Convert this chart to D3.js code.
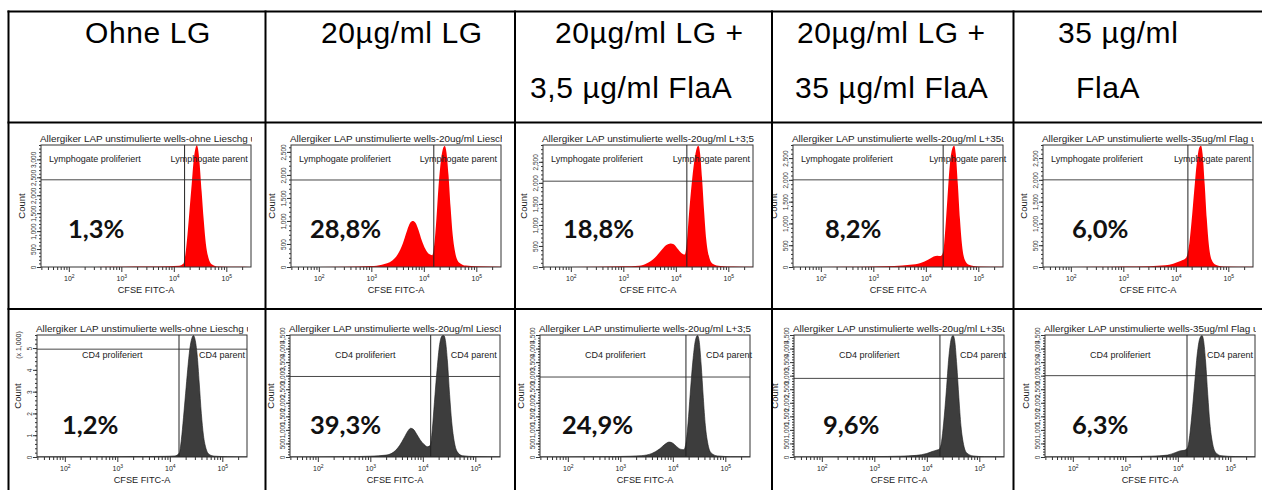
<!DOCTYPE html>
<html>
<head>
<meta charset="utf-8">
<script src="https://cdn.jsdelivr.net/npm/d3@7"></script>
<style>
body { margin: 0; background: #fff; }
svg { display: block; font-family: "Liberation Sans", Arial, sans-serif; }
</style>
</head>
<body>
<div class="chart"></div>
<script>
// column headers (one or two lines each)
const headers = [["Ohne LG"], ["20µg/ml LG"], ["20µg/ml LG +", "3,5 µg/ml FlaA"], ["20µg/ml LG +", "35 µg/ml FlaA"], ["35 µg/ml", "FlaA"]];
const sampleNames = ["ohne Lieschg u", "20ug/ml Liesch", "20ug/ml L+3;5u", "20ug/ml L+35u", "35ug/ml Flag u"];
const titlePrefix = "Allergiker LAP unstimulierte wells-";

// proliferated fraction printed in each plot
const lymphPercent = ["1,3%", "28,8%", "18,8%", "8,2%", "6,0%"];
const cd4Percent = ["1,2%", "39,3%", "24,9%", "9,6%", "6,3%"];

// y-axis top (count) of every histogram
const lymphMax = [3400, 2650, 2900, 2800, 2800];
const cd4Max = [5600, 4500, 4500, 4500, 4500];

// gates: vertical position (log10 CFSE) and horizontal position (count)
const lymphGateX = [4.205, 4.19, 4.21, 4.33, 4.23];
const lymphGateY = [2430, 1890, 2040, 2000, 2000];
const cd4GateX = [4.175, 4.15, 4.25, 4.25, 4.175];
const cd4GateY = [4950, 2970, 2950, 2900, 3000];

// histograms: [log10 CFSE FITC-A, count]
const lymphHist = [
  [[1.47,0],[2.5,3],[3.0,8],[3.5,12],[3.9,20],[4.1,35],[4.18,90],[4.22,350],[4.26,900],[4.30,1600],[4.34,2300],[4.38,3000],[4.42,3350],[4.44,3390],[4.46,3300],[4.49,2900],[4.53,2100],[4.57,1300],[4.61,650],[4.66,250],[4.72,80],[4.85,15],[5.2,5],[5.47,3]],
  [[1.47,0],[2.5,5],[3.0,20],[3.2,50],[3.4,140],[3.5,270],[3.6,510],[3.68,790],[3.74,960],[3.79,1000],[3.84,960],[3.90,800],[3.96,580],[4.03,390],[4.10,280],[4.16,255],[4.20,500],[4.24,1050],[4.28,1750],[4.33,2350],[4.37,2590],[4.40,2630],[4.43,2500],[4.47,2000],[4.51,1300],[4.55,700],[4.60,300],[4.67,100],[4.8,30],[5.0,15],[5.47,5]],
  [[1.47,0],[2.5,5],[3.0,15],[3.3,30],[3.45,90],[3.6,220],[3.72,390],[3.82,520],[3.9,560],[3.96,540],[4.03,440],[4.10,340],[4.17,295],[4.21,600],[4.25,1250],[4.30,1950],[4.35,2500],[4.40,2830],[4.43,2880],[4.46,2720],[4.50,2100],[4.54,1300],[4.58,650],[4.63,260],[4.70,80],[4.85,25],[5.1,10],[5.47,4]],
  [[1.47,0],[2.5,5],[3.0,12],[3.4,25],[3.7,50],[3.9,90],[4.05,170],[4.15,240],[4.22,260],[4.28,250],[4.33,350],[4.37,850],[4.41,1550],[4.45,2250],[4.50,2700],[4.54,2780],[4.57,2600],[4.61,1900],[4.65,1100],[4.69,500],[4.74,170],[4.82,50],[5.0,12],[5.47,4]],
  [[1.47,0],[2.5,5],[3.0,10],[3.5,20],[3.8,40],[3.95,75],[4.05,120],[4.13,160],[4.2,220],[4.25,480],[4.30,1050],[4.35,1750],[4.40,2400],[4.45,2750],[4.48,2780],[4.51,2600],[4.55,1900],[4.59,1100],[4.63,500],[4.68,170],[4.76,50],[4.9,12],[5.47,4]]
];
const cd4Hist = [
  [[1.47,0],[2.5,10],[3.0,15],[3.5,20],[3.9,30],[4.1,50],[4.18,180],[4.22,800],[4.26,1800],[4.30,2900],[4.34,4000],[4.38,4950],[4.42,5450],[4.45,5580],[4.48,5400],[4.52,4700],[4.56,3400],[4.60,2000],[4.64,1000],[4.69,380],[4.75,120],[4.85,40],[5.1,15],[5.47,5]],
  [[1.47,0],[2.5,10],[3.0,30],[3.3,70],[3.45,190],[3.56,430],[3.65,730],[3.72,970],[3.77,1060],[3.82,1020],[3.88,850],[3.95,630],[4.02,470],[4.09,380],[4.14,420],[4.18,1000],[4.22,2000],[4.27,3200],[4.32,4150],[4.37,4470],[4.40,4480],[4.43,4300],[4.47,3500],[4.51,2300],[4.55,1300],[4.60,550],[4.66,180],[4.75,50],[5.0,15],[5.47,5]],
  [[1.47,0],[2.5,8],[3.0,20],[3.4,50],[3.6,130],[3.75,300],[3.85,470],[3.93,550],[4.0,510],[4.07,390],[4.14,290],[4.21,270],[4.25,520],[4.29,1250],[4.33,2300],[4.38,3500],[4.43,4300],[4.47,4480],[4.50,4300],[4.54,3400],[4.58,2200],[4.62,1150],[4.67,460],[4.73,150],[4.85,40],[5.1,12],[5.47,5]],
  [[1.47,0],[2.5,8],[3.0,15],[3.5,30],[3.8,60],[4.0,130],[4.1,200],[4.18,250],[4.24,290],[4.28,560],[4.32,1250],[4.37,2400],[4.42,3700],[4.47,4400],[4.50,4480],[4.53,4300],[4.57,3400],[4.61,2200],[4.65,1150],[4.70,460],[4.76,150],[4.88,40],[5.1,12],[5.47,5]],
  [[1.47,0],[2.5,8],[3.0,15],[3.5,30],[3.8,70],[3.95,160],[4.04,225],[4.12,245],[4.18,320],[4.22,700],[4.27,1600],[4.32,2700],[4.37,3800],[4.42,4380],[4.46,4480],[4.49,4300],[4.53,3500],[4.57,2300],[4.61,1250],[4.66,520],[4.72,170],[4.82,50],[5.1,15],[5.47,5]]
];

// ---- layout ----
const W = 1262, H = 490;
const colX = [8.5, 265.5, 515, 772, 1013.5, 1263];
const rowY = [11.5, 122.5, 309, 493];
const headIndent = [[76.5], [55.5], [40, 15], [25, 23], [44.5, 62.5]];
const headBase = [43, 98];
const topFrameX = [41, 291, 543, 793, 1043];
const botFrameX = [37, 290, 540, 794, 1045];
const topPctX = [27, 19, 20, 32, 29];
const botPctX = [25, 20, 22, 29, 27];
const fw = 210, fh = 122;

const svg = d3.select('.chart')
  .append('svg')
  .attr('width', W)
  .attr('height', H);

const defs = svg.append('defs');

// header text
headers.forEach((lines, i) => {
  lines.forEach((t, j) => {
    svg.append('text')
      .attr('x', colX[i] + headIndent[i][j])
      .attr('y', headBase[j])
      .attr('font-size', 30)
      .attr('letter-spacing', 0.6)
      .attr('fill', '#000')
      .text(t);
  });
});

function panel(r, c, p) {
  const clipId = `cell-${r}-${c}`;
  defs.append('clipPath').attr('id', clipId)
    .append('rect')
    .attr('x', colX[c] + 1).attr('y', rowY[r + 1] + 1)
    .attr('width', colX[c + 1] - colX[c] - 2)
    .attr('height', rowY[r + 2] - rowY[r + 1] - 2);
  const g = svg.append('g').attr('clip-path', `url(#${clipId})`);

  const x = d3.scaleLog().domain([10 ** 1.47, 10 ** 5.47]).range([p.fx, p.fx + fw]);
  const y = d3.scaleLinear().domain([0, p.max]).range([p.fy + fh, p.fy]);

  // title (cut at the frame's right edge)
  const tClip = `title-${r}-${c}`;
  defs.append('clipPath').attr('id', tClip)
    .append('rect').attr('x', p.fx - 3).attr('y', p.fy - 14).attr('width', fw + 4).attr('height', 14);
  g.append('text')
    .attr('clip-path', `url(#${tClip})`)
    .attr('x', p.fx - 1).attr('y', p.fy - 3.5)
    .attr('font-size', 9.9).attr('fill', '#222')
    .text(titlePrefix + p.name);

  // histogram
  const fClip = `frame-${r}-${c}`;
  defs.append('clipPath').attr('id', fClip)
    .append('rect').attr('x', p.fx).attr('y', p.fy - 2).attr('width', fw).attr('height', fh + 2);
  const area = d3.area()
    .x(d => x(10 ** d[0]))
    .y0(y(0))
    .y1(d => y(d[1]))
    .curve(d3.curveMonotoneX);
  g.append('path')
    .datum(p.hist)
    .attr('clip-path', `url(#${fClip})`)
    .attr('d', area)
    .attr('fill', p.color)
    .attr('stroke', p.stroke)
    .attr('stroke-width', 0.6);

  // gates
  const gx = x(10 ** p.gateX), gy = y(p.gateY);
  g.append('line').attr('x1', gx).attr('x2', gx).attr('y1', p.fy).attr('y2', p.fy + fh)
    .attr('stroke', '#222').attr('stroke-width', 1);
  g.append('line').attr('x1', p.fx).attr('x2', p.fx + fw).attr('y1', gy).attr('y2', gy)
    .attr('stroke', '#333').attr('stroke-width', 0.9);
  g.append('text').attr('x', p.fx + p.leftLabelDx).attr('y', p.fy + p.labelDy)
    .attr('font-size', 9).attr('fill', '#222').text(p.leftLabel);
  g.append('text').attr('x', gx + p.rightLabelDx).attr('y', p.fy + p.labelDy)
    .attr('font-size', 9).attr('fill', '#222').text(p.rightLabel);

  // frame
  g.append('rect').attr('x', p.fx).attr('y', p.fy).attr('width', fw).attr('height', fh)
    .attr('fill', 'none').attr('stroke', '#333').attr('stroke-width', 1);

  // x axis: log minor + major ticks
  const minor = [];
  for (let d = 1; d <= 5; d++) for (let k = 2; k <= 9; k++) {
    const v = k * 10 ** d;
    if (v >= x.domain()[0] && v <= x.domain()[1]) minor.push(v);
  }
  g.append('g')
    .attr('transform', `translate(0,${p.fy + fh})`)
    .attr('color', '#333')
    .call(d3.axisBottom(x).tickValues(minor).tickSize(3).tickFormat(''))
    .call(s => s.select('.domain').remove());
  const majorAxis = g.append('g')
    .attr('transform', `translate(0,${p.fy + fh})`)
    .attr('color', '#333')
    .call(d3.axisBottom(x).tickValues([100, 1000, 10000, 100000]).tickSize(5).tickFormat(''))
    .call(s => s.select('.domain').remove());
  majorAxis.selectAll('.tick').append('text')
    .attr('y', 14).attr('text-anchor', 'middle')
    .attr('font-size', 7).attr('fill', '#222')
    .each(function (d) {
      const t = d3.select(this);
      t.append('tspan').text('10');
      t.append('tspan').attr('font-size', 5).attr('dy', -3).text(Math.round(Math.log10(d)));
    });

  g.append('text').attr('x', p.fx + fw / 2).attr('y', p.fy + fh + 26)
    .attr('text-anchor', 'middle').attr('font-size', 9.2).attr('fill', '#222')
    .text('CFSE FITC-A');

  // y axis
  const yMinor = d3.range(0, p.max + 1, p.step / 5);
  g.append('g')
    .attr('transform', `translate(${p.fx},0)`)
    .attr('color', '#333')
    .call(d3.axisLeft(y).tickValues(yMinor).tickSize(2).tickFormat(''))
    .call(s => s.select('.domain').remove());
  g.append('g')
    .attr('transform', `translate(${p.fx},0)`)
    .attr('color', '#333')
    .call(d3.axisLeft(y).tickValues(d3.range(0, p.max + 1, p.step)).tickSize(4).tickFormat(p.fmt))
    .call(s => s.select('.domain').remove())
    .attr('font-size', 6.5).attr('font-family', '"Liberation Sans", Arial, sans-serif')
    .selectAll('text')
      .attr('x', null).attr('dy', null)
      .attr('text-anchor', 'middle')
      .attr('fill', '#333')
      .attr('transform', 'translate(-5.5,0) rotate(-90)');

  g.append('text')
    .attr('transform', `translate(${p.fx - 16},${p.fy + fh / 2}) rotate(-90)`)
    .attr('text-anchor', 'middle').attr('font-size', 9.5).attr('fill', '#222')
    .text('Count');
  if (p.unit) {
    g.append('text')
      .attr('transform', `translate(${p.fx - 16},${p.fy + 10}) rotate(-90)`)
      .attr('text-anchor', 'middle').attr('font-size', 7).attr('fill', '#222')
      .text(p.unit);
  }

  // percentage
  g.append('text')
    .attr('x', p.fx + p.pctDx).attr('y', p.pctY)
    .attr('font-family', 'Lato, "Open Sans", sans-serif')
    .attr('font-weight', 700).attr('font-size', 25.5).attr('fill', '#111')
    .text(p.pct);
}

for (let i = 0; i < 5; i++) {
  panel(0, i, {
    fx: topFrameX[i], fy: 145, max: lymphMax[i], step: 500, fmt: d3.format(','),
    hist: lymphHist[i], color: '#ff0000', stroke: 'none',
    gateX: lymphGateX[i], gateY: lymphGateY[i],
    leftLabel: 'Lymphogate proliferiert', rightLabel: 'Lymphogate parent',
    leftLabelDx: 8, rightLabelDx: -14, labelDy: 17,
    name: sampleNames[i], pct: lymphPercent[i], pctDx: topPctX[i], pctY: 238
  });
  panel(1, i, {
    fx: botFrameX[i], fy: 335, max: cd4Max[i],
    step: i === 0 ? 1000 : 500,
    fmt: i === 0 ? (d => d / 1000) : d3.format(','),
    unit: i === 0 ? '(x 1,000)' : null,
    hist: cd4Hist[i], color: '#3d3d3d', stroke: '#1a1a1a',
    gateX: cd4GateX[i], gateY: cd4GateY[i],
    leftLabel: 'CD4 proliferiert', rightLabel: 'CD4 parent',
    leftLabelDx: 45, rightLabelDx: 20, labelDy: 23,
    name: sampleNames[i], pct: cd4Percent[i], pctDx: botPctX[i], pctY: 434
  });
}

// table grid
const grid = svg.append('g').attr('stroke', '#000').attr('stroke-width', 2);
colX.forEach(cx => grid.append('line').attr('x1', cx).attr('x2', cx).attr('y1', rowY[0] - 1).attr('y2', rowY[3]));
rowY.forEach(ry => grid.append('line').attr('x1', colX[0] - 1).attr('x2', colX[5]).attr('y1', ry).attr('y2', ry));
</script>
</body>
</html>
